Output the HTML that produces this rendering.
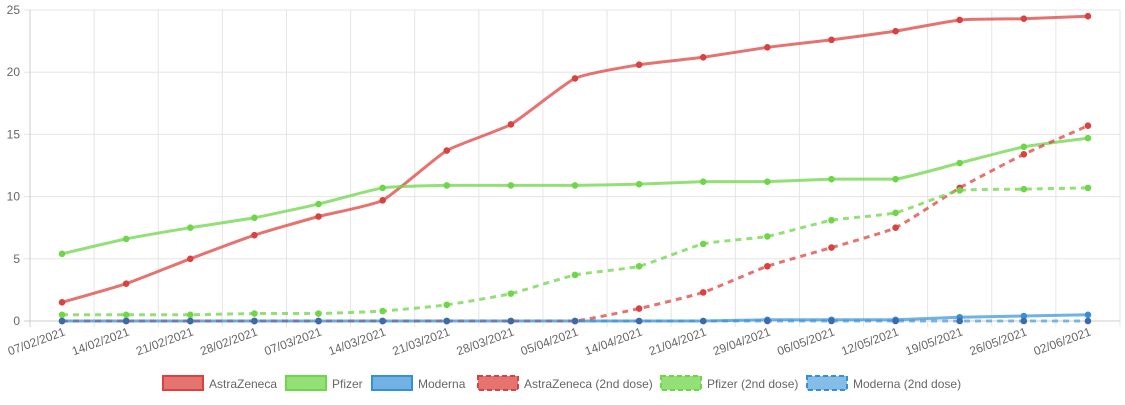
<!DOCTYPE html>
<html><head><meta charset="utf-8"><style>
body{margin:0;background:#fff;font-family:"Liberation Sans",Helvetica,Arial,sans-serif;}
svg text{font-family:"Liberation Sans",Helvetica,Arial,sans-serif;fill:#666;font-size:12px;}
</style></head><body>
<svg id="c" width="1125" height="400"></svg>
<script>
const categories=["07/02/2021","14/02/2021","21/02/2021","28/02/2021","07/03/2021","14/03/2021","21/03/2021","28/03/2021","05/04/2021","14/04/2021","21/04/2021","29/04/2021","06/05/2021","12/05/2021","19/05/2021","26/05/2021","02/06/2021"];
const astra=[1.5,3.0,5.0,6.9,8.4,9.7,13.7,15.8,19.5,20.6,21.2,22.0,22.6,23.3,24.2,24.3,24.5];
const pfizer=[5.4,6.6,7.5,8.3,9.4,10.7,10.9,10.9,10.9,11.0,11.2,11.2,11.4,11.4,12.7,14.0,14.7];
const moderna=[0,0,0,0,0,0,0,0,0,0,0,0.1,0.1,0.1,0.3,0.4,0.5];
const astra2=[0,0,0,0,0,0,0,0,0,1.0,2.3,4.4,5.9,7.5,10.7,13.4,15.7];
const pfizer2=[0.5,0.5,0.5,0.6,0.6,0.8,1.3,2.2,3.7,4.4,6.2,6.8,8.1,8.7,10.5,10.6,10.7];
const moderna2=[0,0,0,0,0,0,0,0,0,0,0,0,0,0,0,0,0];
const yTicks=[0,5,10,15,20,25];
const seriesNames=["AstraZeneca","Pfizer","Moderna","AstraZeneca (2nd dose)","Pfizer (2nd dose)","Moderna (2nd dose)"];

const svg=document.getElementById('c');const NS='http://www.w3.org/2000/svg';
const L=30,R=1120,T=10,B=321,yMax=25;
const bw=(R-L)/categories.length;
const x=i=>L+bw*(i+0.5);
const y=v=>B-(B-T)*v/yMax;
function el(t,a,p){const e=document.createElementNS(NS,t);for(const k in a)e.setAttribute(k,a[k]);(p||svg).appendChild(e);return e;}
yTicks.forEach(v=>{
  const g=el('line',{x1:L-6,x2:R,y1:y(v),y2:y(v),stroke:v===0?'#ccc':'#e5e5e5'});
  
  
  const t=el('text',{x:L-10,y:y(v)+4,'text-anchor':'end'});t.textContent=v;
  
  
});
for(let i=0;i<=categories.length;i++){
  const g=el('line',{x1:L+bw*i,x2:L+bw*i,y1:T,y2:B+6,stroke:i===0?'#ccc':'#e5e5e5'});
  
  
}
categories.forEach((c,i)=>{
  const t=el('text',{x:x(i)+4,y:B+14,'text-anchor':'end',transform:`rotate(-20 ${x(i)+4} ${B+14})`});t.textContent=c;
  
  
});
const styles=[
 {d:astra,c:'rgba(220,70,66,0.75)',p:'#d9423e',lp:'#d9423e',dash:null},
 {d:pfizer,c:'rgba(110,214,72,0.75)',p:'#6ed648',lp:'#6ed648',dash:null},
 {d:moderna,c:'rgba(52,145,215,0.7)',p:'#3491d7',lp:'#3491d7',dash:null},
 {d:astra2,c:'rgba(220,70,66,0.75)',p:'#d9423e',lp:'#d9423e',dash:'6,5'},
 {d:pfizer2,c:'rgba(110,214,72,0.75)',p:'#6ed648',lp:'#6ed648',dash:'6,5'},
 {d:moderna2,c:'rgba(52,145,215,0.6)',p:'#3e6aa8',lp:'#3491d7',dash:'6,5'}
];
function path(d){
  const pts=d.map((v,i)=>[x(i),y(v)]);let s=`M${pts[0][0]},${pts[0][1]}`;
  for(let i=0;i<pts.length-1;i++){
    const p0=pts[Math.max(0,i-1)],p1=pts[i],p2=pts[i+1],p3=pts[Math.min(pts.length-1,i+2)];
    const t=0.08;
    let c1y=p1[1]+(p2[1]-p0[1])*t,c2y=p2[1]-(p3[1]-p1[1])*t;
    const lo=Math.min(p1[1],p2[1]),hi=Math.max(p1[1],p2[1]);
    c1y=Math.min(hi,Math.max(lo,c1y));c2y=Math.min(hi,Math.max(lo,c2y));
    s+=` C${p1[0]+(p2[0]-p0[0])*t},${c1y} ${p2[0]-(p3[0]-p1[0])*t},${c2y} ${p2[0]},${p2[1]}`;
  }
  return s;
}
styles.forEach((s,k)=>{
  const a={d:path(s.d),fill:'none',stroke:s.c,'stroke-width':3};
  if(s.dash)a['stroke-dasharray']=s.dash;
  const p=el('path',a);
  
  
  s.d.forEach((v,i)=>{
    const c=el('circle',{cx:x(i),cy:y(v),r:3.3,fill:s.p});
    
    
  });
});
const legendX=[163,286,372,478,661,807];
seriesNames.forEach((n,k)=>{
  const s=styles[k];const lx=legendX[k];
  const a={x:lx,y:376,width:40,height:14,fill:s.c,stroke:s.lp,'stroke-width':2};
  if(s.dash)a['stroke-dasharray']='5,3';
  const r=el('rect',a);
  
  
  const t=el('text',{x:lx+46,y:388});t.textContent=n;
  
  
});
</script>
</body></html>
